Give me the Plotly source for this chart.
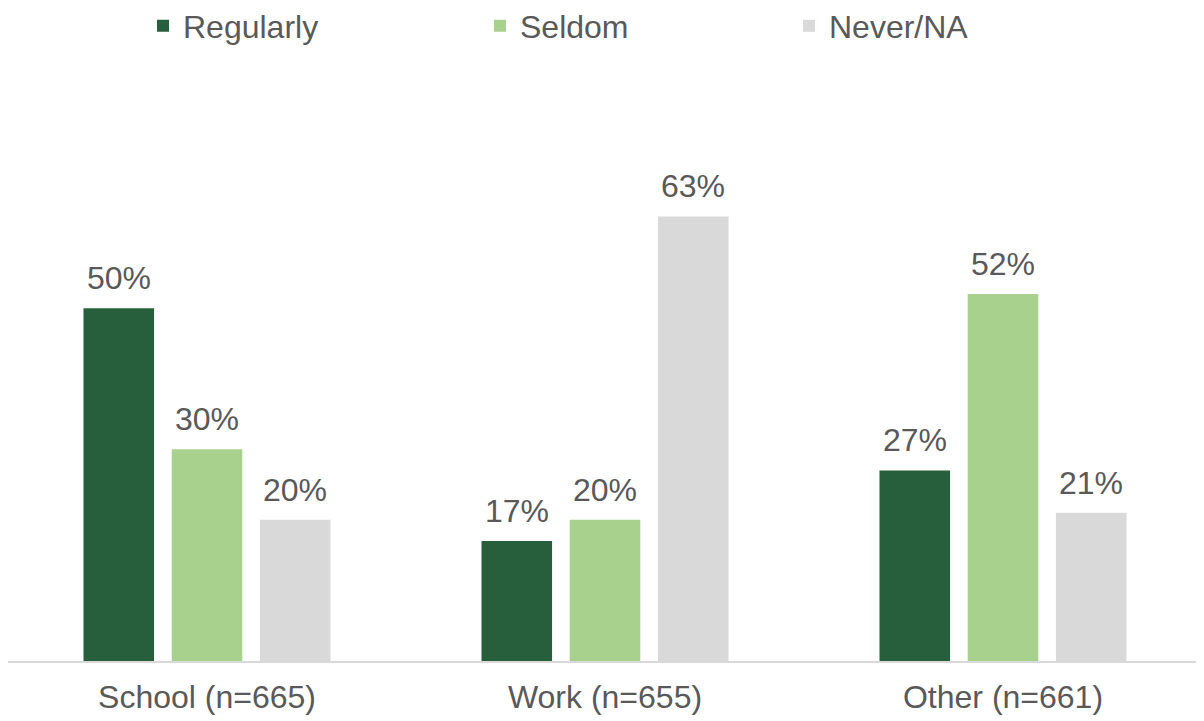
import plotly.graph_objects as go

categories = ["School (n=665)", "Work (n=655)", "Other (n=661)"]
series_names = ["Regularly", "Seldom", "Never/NA"]
regularly = [0.50, 0.17, 0.27]
seldom = [0.30, 0.20, 0.52]
never_na = [0.20, 0.63, 0.21]

colors = ["#275E3B", "#A9D18E", "#D9D9D9"]
TEXT = "#595959"
FONT = "Liberation Sans, Arial, sans-serif"

BARGAP = 0.335
BARGROUPGAP = 0.2

fig = go.Figure()
legend_ids = ["legend", "legend2", "legend3"]
all_series = [regularly, seldom, never_na]
for name, vals, col, lg in zip(series_names, all_series, colors, legend_ids):
    fig.add_trace(
        go.Bar(
            x=categories,
            y=vals,
            name=name,
            marker=dict(color=col, line=dict(width=0)),
            legend=lg,
        )
    )

# data labels, placed over each bar of the group
slot = (1 - BARGAP) / len(all_series)
for i, vals in enumerate(all_series):
    for j, v in enumerate(vals):
        fig.add_annotation(
            x=j + (i - 1) * slot,
            y=v,
            xref="x",
            yref="y",
            text=f"{round(v * 100)}%",
            showarrow=False,
            yanchor="bottom",
            yshift=10,
            font=dict(size=32, color=TEXT, family=FONT),
        )

# thin border on the right edge of the chart
fig.add_shape(
    type="line",
    xref="paper",
    yref="paper",
    x0=1.001,
    x1=1.001,
    y0=-0.2,
    y1=1.4,
    line=dict(color="#D9D9D9", width=2.5),
)

legend_common = dict(
    orientation="h",
    yanchor="middle",
    y=1.2854,
    xanchor="left",
    font=dict(size=32, color=TEXT, family=FONT),
    bgcolor="rgba(0,0,0,0)",
)

fig.update_layout(
    width=1204,
    height=721,
    barmode="group",
    bargap=BARGAP,
    bargroupgap=BARGROUPGAP,
    showlegend=True,
    plot_bgcolor="white",
    paper_bgcolor="white",
    font=dict(family=FONT, color=TEXT, size=32),
    margin=dict(l=0, r=10, t=159, b=68, autoexpand=False),
    legend=dict(legend_common, x=(143 - 8) / 1194),
    legend2=dict(legend_common, x=(480 - 8) / 1194),
    legend3=dict(legend_common, x=(789 - 8) / 1194),
    xaxis=dict(
        showline=True,
        linecolor="#D9D9D9",
        linewidth=2,
        ticks="",
        ticklabelstandoff=7,
        tickfont=dict(size=32, color=TEXT, family=FONT),
        showgrid=False,
        automargin=False,
    ),
    yaxis=dict(
        range=[0, 0.7],
        visible=False,
        showgrid=False,
        zeroline=False,
    ),
)

fig.write_html("out.html")
